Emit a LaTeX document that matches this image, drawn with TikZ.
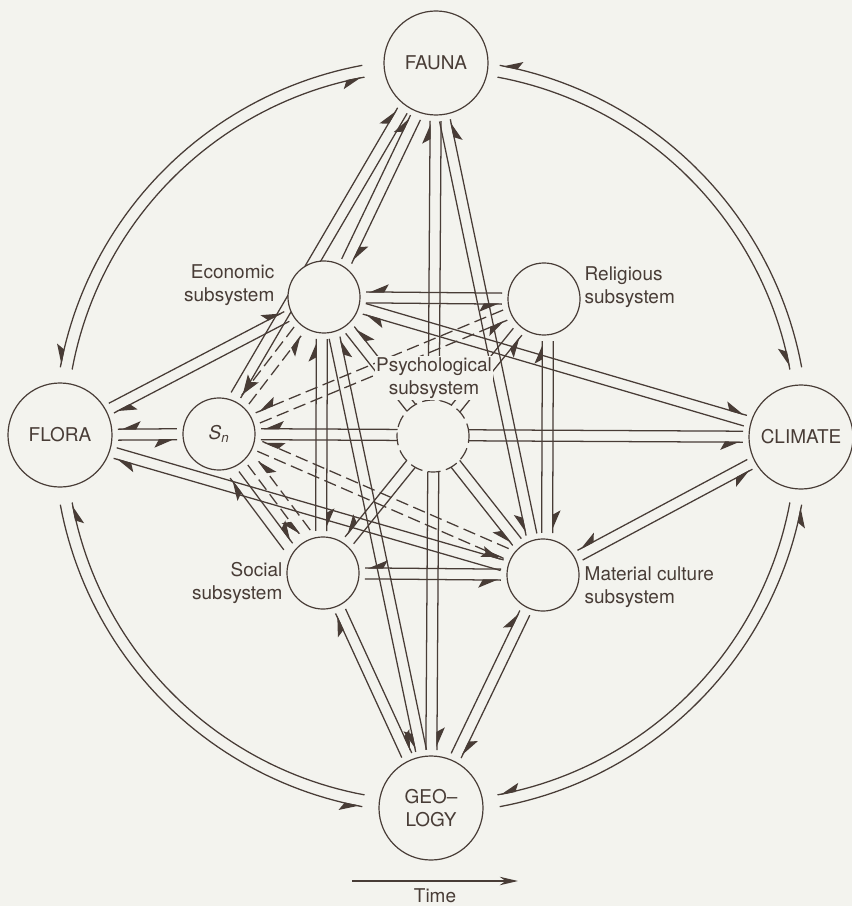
\documentclass[tikz,border=0pt]{standalone}
\usepackage{fontspec}
\setsansfont{TeX Gyre Heros}
\usetikzlibrary{arrows.meta,calc,decorations.markings,backgrounds}
\pgfdeclarelayer{paper}
\pgfsetlayers{paper,background,main}
\definecolor{paper}{RGB}{243,243,238}
\definecolor{ink}{RGB}{72,60,54}

% gap from node centre to line end
\def\rFA{1.45cm}\def\rFL{1.45cm}\def\rCL{1.45cm}\def\rGE{1.45cm}
\def\rEC{1.05cm}\def\rRE{1.05cm}\def\rSN{1.05cm}\def\rSO{1.05cm}\def\rMC{1.05cm}

% double link: [style]{from}{to}{shift}{side}
\newcommand\dlink[5][]{%
  \pgfmathsetmacro\offab{(#4-(#5)*5.5)*0.025}%
  \pgfmathsetmacro\offba{(#4+(#5)*5.5)*0.025}%
  \ifnum#5>0 \tikzset{hhead/.style={hheadR}}\else\tikzset{hhead/.style={hheadL}}\fi
  \draw[conn,hhead,#1] ($(#2)!\csname r#2\endcsname!(#3)!\offab cm!90:(#3)$)
    -- ($(#3)!\csname r#3\endcsname!(#2)!\offab cm!-90:(#2)$);
  \draw[conn,hhead,#1] ($(#3)!\csname r#3\endcsname!(#2)!\offba cm!-90:(#2)$)
    -- ($(#2)!\csname r#2\endcsname!(#3)!\offba cm!90:(#3)$);
}
% double arc on the outer ring
\newcommand\arcpair[2]{%
  \draw[conn,hheadR] plot[domain=#1:#2,samples=50] ({431+377*cos(\x)},{436-377*sin(\x)});
  \draw[conn,hheadR] plot[domain=#2:#1,samples=50] ({431+365*cos(\x)},{436-365*sin(\x)});
}

\begin{document}
\begin{tikzpicture}[x=0.025cm,y=-0.025cm,
  every node/.style={font=\sffamily\fontsize{13.5}{16.5}\selectfont,text=ink},
  ring/.style={circle,draw=ink,fill=paper,line width=0.85pt,minimum size=2.6cm,inner sep=0pt},
  sub/.style={ring,minimum size=1.8cm},
  lbl/.style={inner sep=1pt,fill=paper},
  conn/.style={draw=ink,line width=0.9pt},
  dashlink/.style={dash pattern=on 9pt off 4pt},
  hheadR/.style={postaction={decorate,decoration={markings,mark=at position -2pt with {\arrow[ink]{Stealth[right,length=13pt,width=11pt,inset=3pt]}}}}},
  hheadL/.style={postaction={decorate,decoration={markings,mark=at position -2pt with {\arrow[ink]{Stealth[left,length=13pt,width=11pt,inset=3pt]}}}}}]
  \begin{pgfonlayer}{paper}
    \fill[paper] (0,0) rectangle (852,906);
  \end{pgfonlayer}
  \useasboundingbox (0,0) rectangle (852,906);

  \node[ring] (FA) at (436,63) {FAUNA};
  \node[ring] (FL) at (60,435) {FLORA};
  \node[ring] (CL) at (801,437) {CLIMATE};
  \node[ring,align=center] (GE) at (431,808) {GEO--\\LOGY};
  \node[sub] (EC) at (324,297) {};
  \node[sub] (RE) at (544,299) {};
  \node[sub] (SN) at (219,434) {\textit{S}\textsubscript{\textit{n}}};
  \node[sub,dash pattern=on 9pt off 4pt] (PS) at (433,436) {};
  \node[sub] (SO) at (323,573) {};
  \node[sub] (MC) at (543,575) {};

  \node[lbl,anchor=east,align=right] (ECl) at (276,285) {Economic\\subsystem};
  \node[lbl,anchor=west,align=left] (REl) at (583,287) {Religious\\subsystem};
  \node[lbl,align=center] (PSl) at (434,378) {Psychological\\subsystem};
  \node[lbl,anchor=east,align=right] (SOl) at (284,583) {Social\\subsystem};
  \node[lbl,anchor=west,align=left] (MCl) at (583,587) {Material culture\\subsystem};

  \coordinate (t0) at (352,881);
  \coordinate (t1) at (518,881);
  \draw[conn,-{Stealth[length=13pt,width=6pt]}] (t0) -- (t1) node[midway,below=2pt] (time) {Time};

  \begin{pgfonlayer}{background}
    \arcpair{10.5}{79.5}
    \arcpair{100.5}{169.5}
    \arcpair{190.5}{259.5}
    \arcpair{280.5}{349.5}
    % environment links
    \dlink{FA}{EC}{5}{-1}
    \dlink{FA}{SN}{-5}{-1}
    \dlink{FA}{GE}{0}{-1}
    \dlink{FA}{MC}{-3}{1}
    \dlink{FL}{EC}{0}{-1}
    \dlink{FL}{SN}{0}{1}
    \dlink{FL}{MC}{-2}{-1}
    \dlink{CL}{EC}{0}{-1}
    \dlink{CL}{SN}{0}{1}
    \dlink{CL}{MC}{0}{1}
    % subsystem links
    \dlink{EC}{RE}{0}{1}
    \dlink{EC}{SO}{-2}{-1}
    \dlink{EC}{MC}{0}{1}
    \dlink{EC}{GE}{2}{1}
    \dlink{RE}{MC}{4}{-1}
    \dlink{RE}{SO}{0}{1}
    \dlink{SO}{MC}{0}{1}
    \dlink{SO}{GE}{0}{-1}
    \dlink{MC}{GE}{0}{-1}
    \dlink{SN}{SO}{-12}{-1}
    \dlink[dashlink]{SN}{EC}{0}{1}
    \dlink[dashlink]{SN}{RE}{0}{1}
    \dlink[dashlink]{SN}{SO}{10}{1}
    \dlink[dashlink]{SN}{MC}{5}{1}
  \end{pgfonlayer}
\end{tikzpicture}
\end{document}
